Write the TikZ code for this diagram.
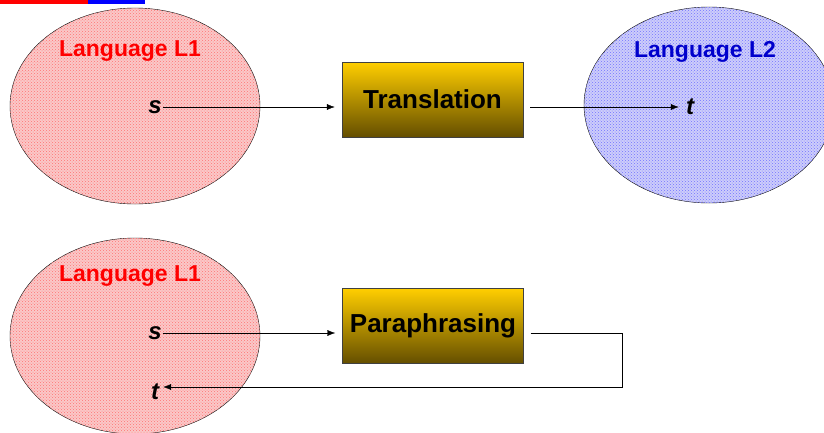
\documentclass[tikz,border=0pt]{standalone}
\usepackage{fontspec}
\setmainfont{Liberation Sans}
\usetikzlibrary{arrows.meta,shapes.geometric,patterns}
\definecolor{langred}{RGB}{255,0,0}
\definecolor{langblue}{RGB}{0,0,204}
\definecolor{redbg}{RGB}{250,200,200}
\definecolor{bluebg}{RGB}{205,205,250}
\definecolor{boxtop}{RGB}{255,206,0}
\definecolor{boxbottom}{RGB}{100,78,0}
\tikzset{
  langset/.style={ellipse, draw=black, minimum width=250pt, minimum height=196pt},
  langlabel/.style={font=\fontsize{23}{27}\selectfont\bfseries},
  word/.style={font=\fontsize{24}{28}\selectfont\bfseries\itshape, inner sep=1pt},
  procbox/.style={rectangle, draw=black!75, top color=boxtop, bottom color=boxbottom,
    minimum width=181pt, minimum height=75pt, font=\fontsize{26}{30}\selectfont\bfseries},
  arrow/.style={-{Latex[length=8pt,width=6pt]}, black}
}

\begin{document}
\begin{tikzpicture}[x=1pt, y=-1pt]
\useasboundingbox (0,0) rectangle (824,432);
\fill[langred] (0,0) rectangle (88,4);
\fill[blue] (88,0) rectangle (145,4);
% Translation
\node[langset, fill=redbg, postaction={pattern=crosshatch dots, pattern color=red!55}] (lang1) at (135,106) {};
\node[langset, fill=bluebg, postaction={pattern=crosshatch dots, pattern color=blue!55}] (lang2) at (709,105) {};
\node[langlabel, text=langred] (name1) at (130,51) {Language L1};
\node[langlabel, text=langblue] (name2) at (705,52) {Language L2};
\node[word] (s1) at (155,107) {s};
\node[word] (t1) at (690,107) {t};
\node[procbox] (trans) at (432.5,99.5) {Translation};
\draw[arrow, shorten >=7pt] (s1.east) -- (s1.east -| trans.west);
\draw[arrow, shorten <=7pt, shorten >=6pt] (s1.east -| trans.east) -- (t1.west);
% Paraphrasing
\node[langset, fill=redbg, postaction={pattern=crosshatch dots, pattern color=red!55}] (lang3) at (135,336) {};
\node[langlabel, text=langred] (name3) at (130,276) {Language L1};
\node[word] (s2) at (155,333) {s};
\node[word] (t2) at (155,392) {t};
\node[procbox] (para) at (433,326) {Paraphrasing};
\coordinate (bend) at (622,0);
\draw[arrow, shorten >=7pt] (s2.east) -- (s2.east -| para.west);
\draw[arrow, shorten <=7pt, shorten >=3pt] (s2.east -| para.east) -- (s2.east -| bend) |- ([yshift=5pt]t2.east);
\end{tikzpicture}
\end{document}
